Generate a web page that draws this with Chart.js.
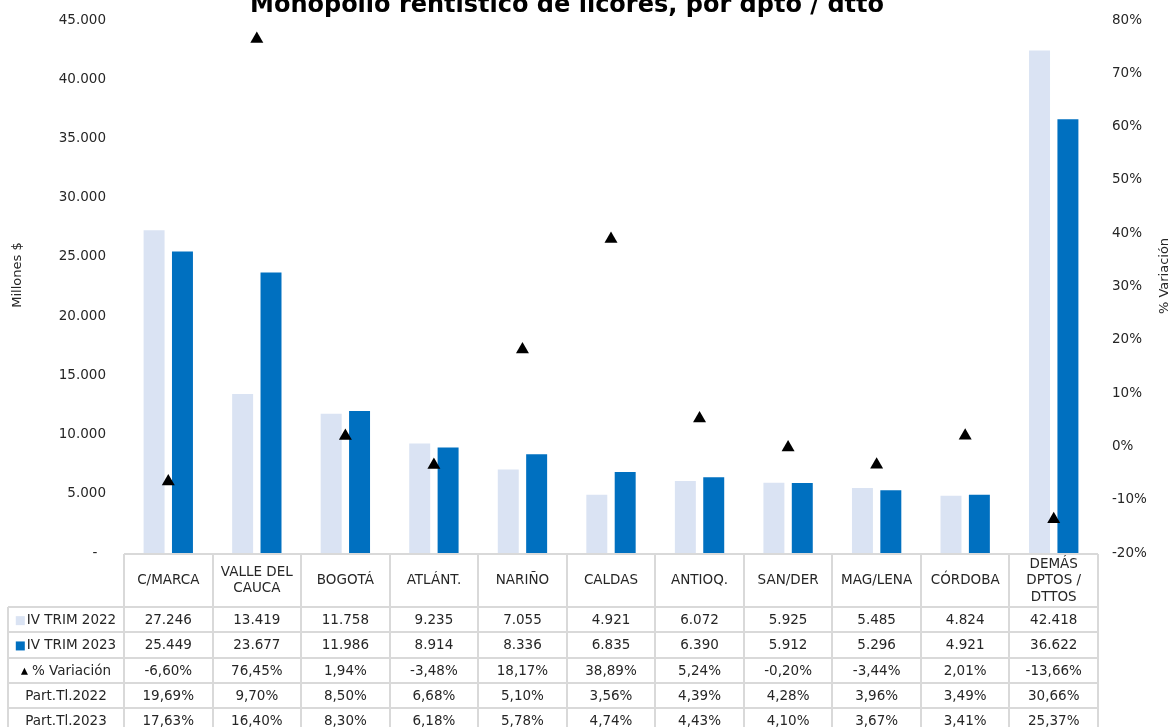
<!DOCTYPE html>
<html>
<head>
<meta charset="utf-8">
<script src="https://cdn.jsdelivr.net/npm/chart.js@4/dist/chart.umd.min.js"></script>
<style>
  html, body { margin: 0; padding: 0; background: #fff; }
  #wrap { width: 1173px; height: 727px; position: relative; overflow: hidden; }
</style>
</head>
<body>
<div id="wrap"><canvas id="c" width="1173" height="727"></canvas></div>
<script>
// ---- data ----
const categories = [['C/MARCA'], ['VALLE DEL', 'CAUCA'], ['BOGOTÁ'], ['ATLÁNT.'], ['NARIÑO'], ['CALDAS'], ['ANTIOQ.'], ['SAN/DER'], ['MAG/LENA'], ['CÓRDOBA'], ['DEMÁS', 'DPTOS /', 'DTTOS']];
const trim2022 = [27246, 13419, 11758, 9235, 7055, 4921, 6072, 5925, 5485, 4824, 42418];
const trim2023 = [25449, 23677, 11986, 8914, 8336, 6835, 6390, 5912, 5296, 4921, 36622];
const variacion = [-6.60, 76.45, 1.94, -3.48, 18.17, 38.89, 5.24, -0.20, -3.44, 2.01, -13.66];
const part2022 = [19.69, 9.70, 8.50, 6.68, 5.10, 3.56, 4.39, 4.28, 3.96, 3.49, 30.66];
const part2023 = [17.63, 16.40, 8.30, 6.18, 5.78, 4.74, 4.43, 4.10, 3.67, 3.41, 25.37];
const seriesNames = ['IV TRIM 2022', 'IV TRIM 2023', '% Variación', 'Part.Tl.2022', 'Part.Tl.2023'];
const titleText = 'Monopolio rentístico de licores, por dpto / dtto';
const leftTitle = 'Millones $';
const rightTitle = '% Variación';

const FONT = "'DejaVu Sans', Verdana, sans-serif";
const C2022 = '#dae3f3';
const C2023 = '#0070c0';
const GRIDC = '#d9d9d9';
const TXT = '#262626';

const fmtThousands = v => Math.round(v).toString().replace(/\B(?=(\d{3})+(?!\d))/g, '.');
const fmtPct = v => v.toFixed(2).replace('.', ',') + '%';

const tablePlugin = {
  id: 'tablePlugin',
  afterDraw(chart) {
    const ctx = chart.ctx;
    const area = chart.chartArea;
    const xs = chart.scales.x;
    const n = categories.length;
    const cw = (area.right - area.left) / n;
    const top = area.bottom + 1;
    const headerH = 53;
    const rowH = 25.3;
    const leftX = 8;
    const bottomY = 760;
    ctx.save();
    // lines
    ctx.strokeStyle = GRIDC;
    ctx.lineWidth = 2;
    ctx.beginPath();
    ctx.moveTo(area.left, top); ctx.lineTo(area.right, top);
    for (let i = 0; i <= n; i++) {
      const x = Math.round(area.left + i * cw);
      ctx.moveTo(x, top); ctx.lineTo(x, bottomY);
    }
    ctx.moveTo(leftX, top + headerH); ctx.lineTo(leftX, bottomY);
    for (let r = 0; r < 5; r++) {
      const y = Math.round(top + headerH + r * rowH);
      ctx.moveTo(leftX, y); ctx.lineTo(area.right, y);
    }
    ctx.stroke();

    // header text
    ctx.fillStyle = TXT;
    ctx.font = '13.5px ' + FONT;
    ctx.textAlign = 'center';
    ctx.textBaseline = 'middle';
    const lh = 16.5;
    categories.forEach((lines, i) => {
      const cx = xs.getPixelForValue(i);
      const cy = top + headerH / 2;
      lines.forEach((t, k) => {
        ctx.fillText(t, cx, cy + (k - (lines.length - 1) / 2) * lh);
      });
    });

    // rows
    const rows = [
      trim2022.map(fmtThousands),
      trim2023.map(fmtThousands),
      variacion.map(fmtPct),
      part2022.map(fmtPct),
      part2023.map(fmtPct)
    ];
    rows.forEach((vals, r) => {
      const cy = top + headerH + r * rowH + rowH / 2 + 1;
      vals.forEach((t, i) => {
        ctx.fillText(t, xs.getPixelForValue(i), cy);
      });
      // row label
      const label = seriesNames[r];
      const colC = (leftX + area.left) / 2;
      const w = ctx.measureText(label).width;
      if (r < 2) {
        const total = 9 + 2 + w;
        const x0 = colC - total / 2;
        ctx.fillStyle = r === 0 ? C2022 : C2023;
        ctx.fillRect(x0, cy - 4.5, 9, 9);
        ctx.fillStyle = TXT;
        ctx.textAlign = 'left';
        ctx.fillText(label, x0 + 11, cy);
        ctx.textAlign = 'center';
      } else if (r === 2) {
        const total = 7 + 4 + w;
        const x0 = colC - total / 2;
        ctx.fillStyle = '#000';
        ctx.beginPath();
        ctx.moveTo(x0, cy + 3.5);
        ctx.lineTo(x0 + 7, cy + 3.5);
        ctx.lineTo(x0 + 3.5, cy - 3.5);
        ctx.closePath();
        ctx.fill();
        ctx.fillStyle = TXT;
        ctx.textAlign = 'left';
        ctx.fillText(label, x0 + 11, cy);
        ctx.textAlign = 'center';
      } else {
        ctx.fillText(label, colC, cy);
      }
    });

    // title
    ctx.fillStyle = '#000';
    ctx.font = 'bold 24px ' + FONT;
    ctx.textAlign = 'center';
    ctx.textBaseline = 'alphabetic';
    ctx.fillText(titleText, 567, 12);

    // axis titles
    ctx.font = '13px ' + FONT;
    ctx.fillStyle = TXT;
    ctx.textBaseline = 'middle';
    ctx.save();
    ctx.translate(18, 275);
    ctx.rotate(-Math.PI / 2);
    ctx.fillText(leftTitle, 0, 0);
    ctx.restore();
    ctx.save();
    ctx.translate(1165, 276);
    ctx.rotate(-Math.PI / 2);
    ctx.fillText(rightTitle, 0, 0);
    ctx.restore();
    ctx.restore();
  }
};

new Chart(document.getElementById('c'), {
  type: 'bar',
  data: {
    labels: categories.map(l => l.join(' ')),
    datasets: [
      {
        type: 'line', label: seriesNames[2], data: variacion, yAxisID: 'y1',
        showLine: false, pointStyle: 'triangle', pointRadius: 7.5, pointHoverRadius: 7.5,
        backgroundColor: '#000', borderColor: '#000', borderWidth: 0, order: 0
      },
      {
        label: seriesNames[0], data: trim2022, yAxisID: 'y', backgroundColor: C2022,
        categoryPercentage: 0.641, barPercentage: 0.739, order: 1
      },
      {
        label: seriesNames[1], data: trim2023, yAxisID: 'y', backgroundColor: C2023,
        categoryPercentage: 0.641, barPercentage: 0.739, order: 1
      }
    ]
  },
  options: {
    responsive: false,
    devicePixelRatio: 1,
    animation: false,
    layout: { padding: { top: 20, bottom: 174, left: 0, right: 0 } },
    plugins: { legend: { display: false }, tooltip: { enabled: false }, title: { display: false } },
    scales: {
      x: { display: false, offset: true, grid: { display: false } },
      y: {
        position: 'left', min: 0, max: 45000,
        ticks: {
          stepSize: 5000, padding: 18, color: TXT, font: { family: FONT, size: 13.5 },
          callback: v => v === 0 ? '-  ' : fmtThousands(v)
        },
        grid: { display: false, drawTicks: false },
        border: { display: false },
        afterFit(s) { s.width = 124; s.paddingTop = 0; s.paddingBottom = 0; }
      },
      y1: {
        position: 'right', min: -20, max: 80,
        ticks: {
          stepSize: 10, padding: 14, color: TXT, font: { family: FONT, size: 13.5 },
          callback: v => v + '%'
        },
        grid: { display: false, drawTicks: false },
        border: { display: false },
        afterFit(s) { s.width = 75; s.paddingTop = 0; s.paddingBottom = 0; }
      }
    }
  },
  plugins: [tablePlugin]
});
</script>
</body>
</html>
